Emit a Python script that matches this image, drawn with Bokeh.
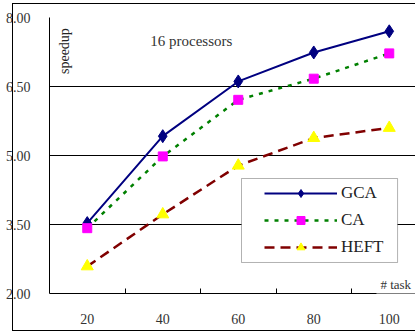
from bokeh.plotting import figure
from bokeh.models import (FixedTicker, Range1d, Legend, LegendItem, Label,
                          BoxAnnotation, InlineStyleSheet)
from bokeh.embed import file_html
from bokeh.resources import INLINE
import math

# Speedup on 16 processors versus number of tasks
tasks = [20, 40, 60, 80, 100]
gca = [3.53, 5.42, 6.61, 7.24, 7.70]
ca = [3.42, 4.98, 6.21, 6.67, 7.22]
heft = [2.59, 3.72, 4.78, 5.38, 5.60]

y_ticks = [2.0, 3.5, 5.0, 6.5, 8.0]
y_tick_labels = {2.0: "2.00", 3.5: "3.50", 5.0: "5.00", 6.5: "6.50", 8.0: "8.00"}
x_boundaries = [30, 50, 70, 90]

SERIF = "Liberation Serif"

p = figure(width=415, height=331, output_backend="svg", toolbar_location=None,
           x_range=Range1d(10, 106.95), y_range=Range1d(2, 8),
           min_border_left=49, min_border_right=0, min_border_top=17,
           min_border_bottom=38, frame_width=366, frame_height=276)
p.outline_line_color = None
p.background_fill_color = "white"
p.border_fill_color = "white"

# thin frame around the whole chart area
p.stylesheets = [InlineStyleSheet(css="""
:host { position: relative; }
:host::after {
  content: "";
  position: absolute;
  left: 12px; top: 3px; width: 403px; height: 326px;
  border-left: 1.5px solid black;
  border-top: 1.5px solid black;
  border-bottom: 1.5px solid black;
  pointer-events: none;
  z-index: 10;
}
""")]

# axes
p.xaxis.ticker = FixedTicker(ticks=tasks, minor_ticks=x_boundaries)
p.xaxis.major_tick_line_color = None
p.xaxis.minor_tick_in = 5
p.xaxis.minor_tick_out = 0
p.xaxis.minor_tick_line_color = "black"
p.xaxis.axis_line_color = "black"
p.xaxis.major_label_standoff = 14
p.xaxis.major_label_text_font = SERIF
p.xaxis.major_label_text_font_size = "14px"
p.xaxis.major_label_text_color = "#333333"

p.yaxis.ticker = FixedTicker(ticks=y_ticks)
p.yaxis.major_label_overrides = y_tick_labels
p.yaxis.major_tick_line_color = None
p.yaxis.minor_tick_line_color = None
p.yaxis.axis_line_color = "black"
p.yaxis.major_label_standoff = 13
p.yaxis.major_label_text_font = SERIF
p.yaxis.major_label_text_font_size = "14px"
p.yaxis.major_label_text_color = "#333333"

p.xgrid.grid_line_color = None
p.ygrid.grid_line_color = "black"
p.ygrid.grid_line_width = 1

# series
l_gca = p.line(tasks, gca, line_color="#000080", line_width=2)
m_gca = p.scatter(tasks, gca, marker="diamond", size=13, fill_color="#000080",
                  line_color="#000080")
l_ca = p.line(tasks, ca, line_color="#008000", line_width=2.5, line_dash="4 6")
m_ca = p.scatter(tasks, ca, marker="square", size=9, fill_color="#FF00FF",
                 line_color="#FF00FF")
l_heft = p.line(tasks, heft, line_color="#800000", line_width=2.5,
                line_dash="10 6")
m_heft = p.scatter(tasks, heft, marker="triangle", size=12,
                   fill_color="#FFFF00", line_color="#FFFF00")

# legend frame
p.add_layout(BoxAnnotation(left=60.86, right=102.2, top=4.5, bottom=2.674,
                           fill_color="white", fill_alpha=1.0,
                           line_color="black", line_width=1))

legend = Legend(items=[
    LegendItem(label="GCA", renderers=[l_gca, m_gca]),
    LegendItem(label="CA", renderers=[l_ca, m_ca]),
    LegendItem(label="HEFT", renderers=[l_heft, m_heft]),
], location=(215, 36), padding=0, margin=0, spacing=7,
    glyph_width=73, glyph_height=20, label_height=20, label_standoff=4,
    border_line_color=None, background_fill_alpha=0,
    label_text_font=SERIF, label_text_font_size="17px",
    label_text_color="#222222")
p.add_layout(legend)

# annotations
p.add_layout(Label(x=36.7, y=7.5, text="16 processors", text_font=SERIF,
                   text_font_size="15px", text_color="#333333",
                   text_baseline="middle"))
p.add_layout(Label(x=14.0, y=7.27, text="speedup", angle=math.pi / 2,
                   text_font=SERIF, text_font_size="14px",
                   text_color="#222222",
                   text_align="center", text_baseline="middle"))
p.add_layout(Label(x=96.6, y=2.2, text="# task", text_font=SERIF,
                   text_font_size="13px", text_color="#333333",
                   text_baseline="middle", background_fill_color="white",
                   padding=4))

open("out.html", "w").write(file_html(p, INLINE))
